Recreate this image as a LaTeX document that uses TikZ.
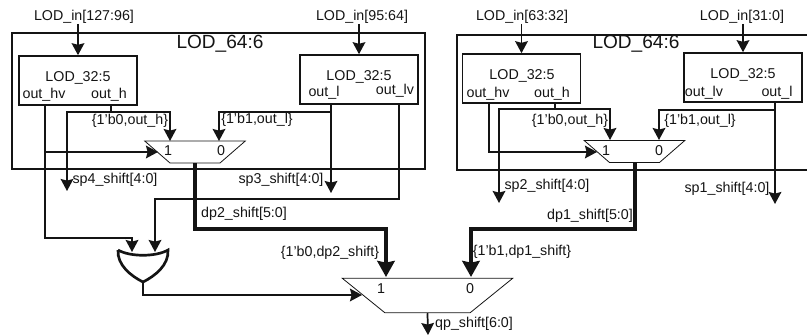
\documentclass[tikz,border=0pt]{standalone}
\usepackage{fontspec}
\setmainfont{Liberation Sans}
\usetikzlibrary{arrows.meta}
\usetikzlibrary{shapes.geometric}
\definecolor{ColA}{RGB}{20,20,20}
\tikzstyle{Label}=[inner sep=0pt,font=\fontsize{10.7}{12}\selectfont,text=ColA]
\tikzstyle{Title}=[inner sep=0pt,font=\fontsize{14.3}{16}\selectfont,text=ColA]
\tikzstyle{Block}=[draw=ColA,line width=1.2pt]
\tikzstyle{Unit}=[Block,minimum width=88.5pt,minimum height=36.75pt,inner sep=0pt]
\tikzstyle{MuxSmall}=[trapezium,shape border rotate=180,draw=ColA,line width=.6pt,
trapezium angle=41,inner xsep=18.75pt,inner ysep=8.25pt]
\tikzstyle{MuxBig}=[MuxSmall,trapezium angle=39,inner xsep=31.9pt,inner ysep=13pt]
\tikzstyle{Wire}=[draw=ColA,line width=1.3pt,-{Stealth[length=9pt,width=9.5pt,inset=1.2pt]}]
\tikzstyle{Bus}=[draw=ColA,line width=3pt,-{Stealth[length=12pt,width=13pt,inset=1.2pt]}]
\begin{document}
\begin{tikzpicture}[x=.75pt,y=-.75pt]
        \useasboundingbox(0,0)rectangle(807,335);
        % left half
        \node[Block,minimum width=309.75pt,minimum height=102pt,inner sep=0pt](LodA)at(218.5,101){};
        \node[Title](TitleA)at(220,44){LOD\_64:6};
        \node[Unit](UnitA)at(78,80.5){};
        \node[Unit](UnitB)at(359,79.5){};
        \node[Label](NameA)at(78,78){LOD\_32:5};
        \node[Label](NameB)at(359,77){LOD\_32:5};
        \node[Label](HvA)at(44,95){out\_hv};
        \node[Label](HA)at(109,95){out\_h};
        \node[Label](LB)at(324,93){out\_l};
        \node[Label](LvB)at(395,91){out\_lv};
        \node[Label](InA)at(84,17){LOD\_in[127:96]};
        \node[Label](InB)at(362,17){LOD\_in[95:64]};
        \node[MuxSmall](MuxA)at(195,152){};
        \node[Label](OneA)at(168,150.5){1};
        \node[Label](ZeroA)at(221,150.5){0};
        \node[Label]at(130,121){\{1'b0,out\_h\}};
        \node[Label]at(257,120){\{1'b1,out\_l\}};
        \node[Label](SpFour)at(115,180){sp4\_shift[4:0]};
        \node[Label](SpThree)at(281,180){sp3\_shift[4:0]};
        \node[Label](DpTwo)at(244,214){dp2\_shift[5:0]};
        % right half
        \node[Block,minimum width=270pt,minimum height=101.25pt,inner sep=0pt,anchor=north west](LodB)at(456,34){};
        \node[Title](TitleB)at(636,44){LOD\_64:6};
        \node[Unit](UnitC)at(521.5,78.5){};
        \node[Unit](UnitD)at(743,77.5){};
        \node[Label](NameC)at(522,76){LOD\_32:5};
        \node[Label](NameD)at(743,75){LOD\_32:5};
        \node[Label](HvC)at(488,94){out\_hv};
        \node[Label](HC)at(552,94){out\_h};
        \node[Label](LvD)at(704,93){out\_lv};
        \node[Label](LD)at(777,93){out\_l};
        \node[Label](InC)at(522,17){LOD\_in[63:32]};
        \node[Label](InD)at(742,17){LOD\_in[31:0]};
        \node[MuxSmall](MuxB)at(634.5,151.5){};
        \node[Label](OneB)at(606,150.5){1};
        \node[Label](ZeroB)at(659,150.5){0};
        \node[Label]at(570,121){\{1'b0,out\_h\}};
        \node[Label]at(700,120.5){\{1'b1,out\_l\}};
        \node[Label](SpTwo)at(547,186){sp2\_shift[4:0]};
        \node[Label](SpOne)at(727,189){sp1\_shift[4:0]};
        \node[Label](DpOne)at(590,216){dp1\_shift[5:0]};
        % bottom mux
        \node[MuxBig](MuxC)at(427.5,295.5){};
        \node[Label](OneC)at(381,288.5){1};
        \node[Label](ZeroC)at(470,288.5){0};
        \node[Label]at(330,253){\{1'b0,dp2\_shift\}};
        \node[Label]at(522,252){\{1'b1,dp1\_shift\}};
        \node[Label](QpShift)at(474,324){qp\_shift[6:0]};
        \coordinate(OutEnd)at(428,335);
        \coordinate(SpFourEnd)at(67,191);
        \coordinate(SpThreeEnd)at(331,193);
        \coordinate(SpTwoEnd)at(499,203);
        \coordinate(SpOneEnd)at(775,204);
        % or gate
        \coordinate(OrA)at(118,250);
        \coordinate(OrB)at(168,250);
        \coordinate(OrOut)at(143,282);
        \coordinate(OrIn)at(132,252);
        \coordinate(OrInB)at(155,252);
        \draw[draw=ColA,line width=2pt,line join=miter](OrA)..controls(130,257)and(156,257)..(OrB)
        ..controls(169,265)and(155,276)..(OrOut)..controls(131,276)and(117,265)..(OrA);
        \draw[draw=ColA,line width=2pt](OrOut)--++(0,5);
        \draw[Wire](OrOut)--(143,295)--(362,295);
        % inputs
        \draw[Wire](InA.south-|UnitA)--(UnitA.north);
        \draw[Wire](InB.south-|UnitB)--(UnitB.north);
        \draw[Wire](InC.south-|UnitC)--(UnitC.north);
        \draw[Wire](InD.south-|UnitD)--(UnitD.north);
        % left half wires
        \draw[Wire](UnitA.south-|HvA)++(1,0)--(45,152)--(158,152);
        \draw[Wire](45,152)--(45,238)-|(OrIn);
        \draw[Wire](UnitA.south-|HA)++(2,0)--(111,112)-|(170,141);
        \draw[Wire](111,112)-|(SpFourEnd);
        \draw[Wire](UnitB.south-|SpThreeEnd)--(SpThreeEnd);
        \draw[Wire](331,112)-|(219,141);
        \draw[Wire](UnitB.south-|LvB)++(4,0)--(399,199)-|(OrInB);
        \draw[Bus](MuxA.south)|-(386,229)--(386,277);
        % right half wires
        \draw[Wire](UnitC.south-|HvC)++(1,0)--(489,152)--(597,152);
        \draw[Wire](UnitC.south-|HC)++(3,0)--(555,109)-|(610,140);
        \draw[Wire](555,109)-|(SpTwoEnd);
        \draw[Wire](UnitD.south-|SpOneEnd)--(SpOneEnd);
        \draw[Wire](775,110)-|(659,140);
        \draw[Bus](MuxB.south)|-(471,229)--(471,277);
        \draw[Wire](MuxC.south)--(OutEnd);
    \end{tikzpicture}
\end{document}
